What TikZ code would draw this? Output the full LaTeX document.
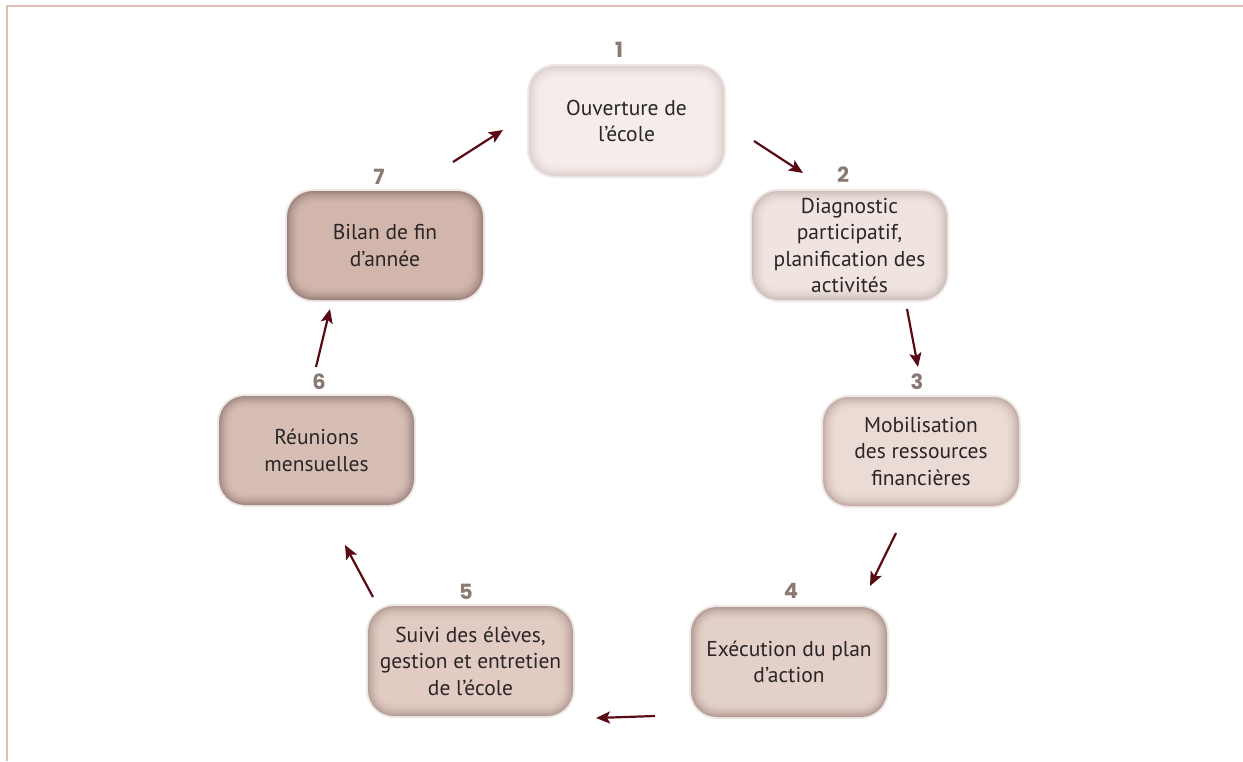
\documentclass[tikz,border=0pt]{standalone}
\usepackage{fontspec}
\setmainfont{PT Sans}
\newfontfamily\numfont{Poppins}
\usetikzlibrary{arrows.meta}
\definecolor{framecol}{HTML}{DCC0B4}
\definecolor{arrowcol}{HTML}{5A0A14}
\definecolor{numcol}{HTML}{8A7A73}
\definecolor{txtcol}{HTML}{2A2526}
\definecolor{halo}{HTML}{EEE8E6}
\definecolor{cA}{HTML}{F4EDEB}\definecolor{eA}{HTML}{DDCFCB}
\definecolor{cB}{HTML}{EFE4E0}\definecolor{eB}{HTML}{CBBBB6}
\definecolor{cC}{HTML}{EADBD5}\definecolor{eC}{HTML}{BFA9A2}
\definecolor{cD}{HTML}{E3D0C8}\definecolor{eD}{HTML}{AE978F}
\definecolor{cE}{HTML}{E2CBC2}\definecolor{eE}{HTML}{B09A92}
\definecolor{cF}{HTML}{D7BEB5}\definecolor{eF}{HTML}{9C857E}
\definecolor{cG}{HTML}{D2B6AC}\definecolor{eG}{HTML}{987E77}
\tikzset{
  boxtext/.style={inner sep=0pt, align=center, font=\fontsize{21.5}{26.5}\selectfont, text=txtcol},
  numlabel/.style={inner sep=0pt, text height=15pt, text depth=0pt, font=\numfont\fontsize{21}{21}\selectfont\bfseries, text=numcol},
  cyclearrow/.style={arrowcol, line width=2.2pt, -{Stealth[length=14pt,width=12pt,inset=3pt]}}
}
% #1 name, #2 x, #3 y, #4 w, #5 h, #6 centre colour, #7 edge colour, #8 text
\newcommand{\glowbox}[8]{%
  \fill[halo, rounded corners=28pt] ({#2-#4/2-2},{#3-#5/2-2}) rectangle ({#2+#4/2+2},{#3+#5/2+2});
  \foreach \i in {0,...,14}{%
    \pgfmathsetmacro\pct{90*(1-\i/14)*(1-\i/14)}%
    \pgfmathsetmacro\rr{26-\i}%
    \fill[#7!\pct!#6, rounded corners=\rr pt] ({#2-#4/2+\i},{#3-#5/2+\i}) rectangle ({#2+#4/2-\i},{#3+#5/2-\i});
  }%
  \node[boxtext, minimum width=#4pt, minimum height=#5pt] (#1) at (#2,#3) {#8};
}
\begin{document}
\begin{tikzpicture}[x=1pt,y=-1pt]
\useasboundingbox (0,0) rectangle (1243,761);
\draw[framecol, line width=2.2pt] (7,761) -- (7,6) -- (1243,6);

\glowbox{b1}{626.5}{121}{195}{110}{cA}{eA}{Ouverture de\\l’école}
\glowbox{b2}{849.5}{245.5}{195}{109}{cB}{eB}{Diagnostic\\participatif,\\planification des\\activités}
\glowbox{b3}{921}{451.5}{196}{109}{cC}{eC}{Mobilisation\\des ressources\\financières}
\glowbox{b4}{789}{662}{196}{110}{cD}{eD}{Exécution du plan\\d’action}
\glowbox{b5}{470.5}{661}{205}{110}{cE}{eE}{Suivi des élèves,\\gestion et entretien\\de l’école}
\glowbox{b6}{316.5}{450.5}{195}{109}{cF}{eF}{Réunions\\mensuelles}
\glowbox{b7}{385}{245.5}{196}{109}{cG}{eG}{Bilan de fin\\d’année}

\node[numlabel] (n1) at (619,50) {1};
\node[numlabel] (n2) at (843,175) {2};
\node[numlabel] (n3) at (917,382) {3};
\node[numlabel] (n4) at (791,591) {4};
\node[numlabel] (n5) at (466,592) {5};
\node[numlabel] (n6) at (319,382) {6};
\node[numlabel] (n7) at (379,177) {7};

\coordinate (a12s) at (754,141); \coordinate (a12e) at (803,173);
\coordinate (a23s) at (907,309); \coordinate (a23e) at (918,367);
\coordinate (a34s) at (896,533); \coordinate (a34e) at (870,586);
\coordinate (a45s) at (655,716); \coordinate (a45e) at (596,718);
\coordinate (a56s) at (373,597); \coordinate (a56e) at (345,545);
\coordinate (a67s) at (316,367); \coordinate (a67e) at (330,309);
\coordinate (a71s) at (453,162); \coordinate (a71e) at (503,130);

\draw[cyclearrow] (a12s) -- (a12e);
\draw[cyclearrow] (a23s) -- (a23e);
\draw[cyclearrow] (a34s) -- (a34e);
\draw[cyclearrow] (a45s) -- (a45e);
\draw[cyclearrow] (a56s) -- (a56e);
\draw[cyclearrow] (a67s) -- (a67e);
\draw[cyclearrow] (a71s) -- (a71e);
\end{tikzpicture}
\end{document}
